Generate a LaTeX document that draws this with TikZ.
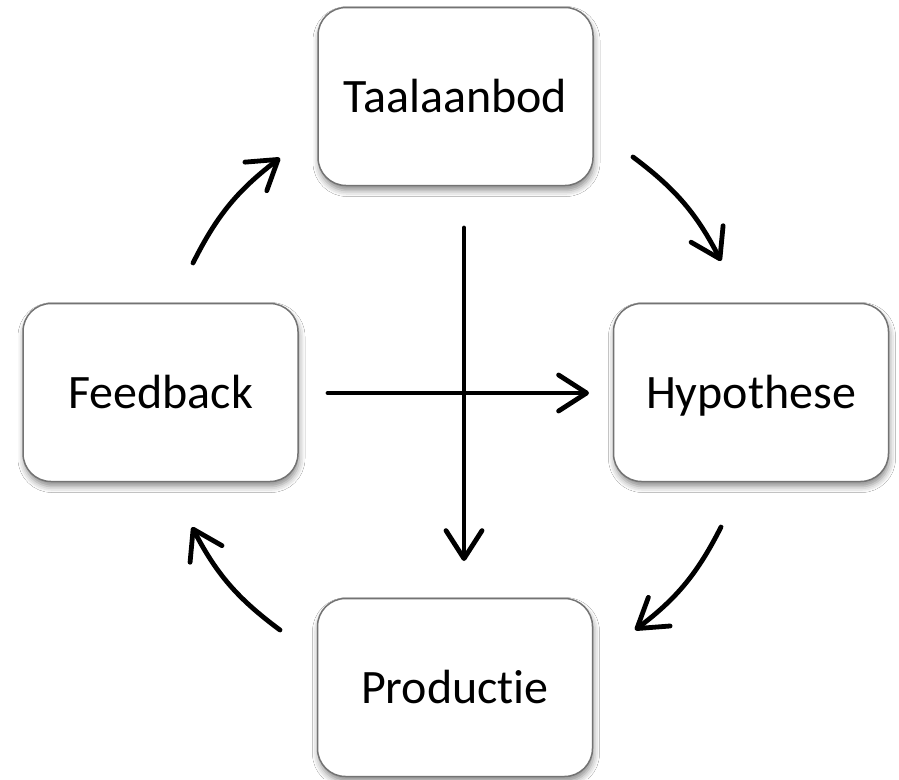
\documentclass[tikz,border=0pt]{standalone}
\usepackage{fontspec}
\setmainfont[Ligatures=NoCommon]{Carlito}
\usetikzlibrary{arrows.meta,shadows.blur}
\tikzset{
  cbox/.style={draw=black!55, line width=1.5pt, fill=white, rounded corners=28pt,
    minimum width=275pt, minimum height=178pt, inner sep=0pt,
    text height=31pt, text depth=0pt,
    font=\fontsize{48}{58}\selectfont,
    blur shadow={shadow xshift=1pt, shadow yshift=-5pt, shadow blur radius=6pt, shadow opacity=45}},
  conn/.style={line width=4.8pt, line cap=round,
    -{Straight Barb[length=28pt,width=36pt,line width=4.8pt,round]}},
}
\begin{document}
\begin{tikzpicture}[x=1pt,y=-1pt]
\useasboundingbox (0,0) rectangle (899,779);
\fill[white] (0,0) rectangle (899,779);
\node[cbox] (ta) at (455.5,96.5) {Taalaanbod};
\node[cbox] (fb) at (160.5,392.5) {Feedback};
\node[cbox] (hy) at (751,392.5) {Hypothese};
\node[cbox] (pr) at (455,687.5) {Productie};
\coordinate (a1s) at (193,263);
\coordinate (a1e) at (280,158);
\coordinate (a2s) at (633,157);
\coordinate (a2e) at (721,261);
\coordinate (a3s) at (721,527);
\coordinate (a3e) at (635,630);
\coordinate (a4s) at (280,630);
\coordinate (a4e) at (192,527);
\coordinate (vs) at (464,228);
\coordinate (ve) at (464,561);
\coordinate (hs) at (328,393);
\coordinate (he) at (589,393);
\draw[conn] (a1s) to[bend left=13] (a1e);
\draw[conn] (a2s) to[bend left=13] (a2e);
\draw[conn] (a3s) to[bend left=13] (a3e);
\draw[conn] (a4s) to[bend left=13] (a4e);
\draw[conn] (hs) -- (he);
\draw[conn] (vs) -- (ve);
\end{tikzpicture}
\end{document}
